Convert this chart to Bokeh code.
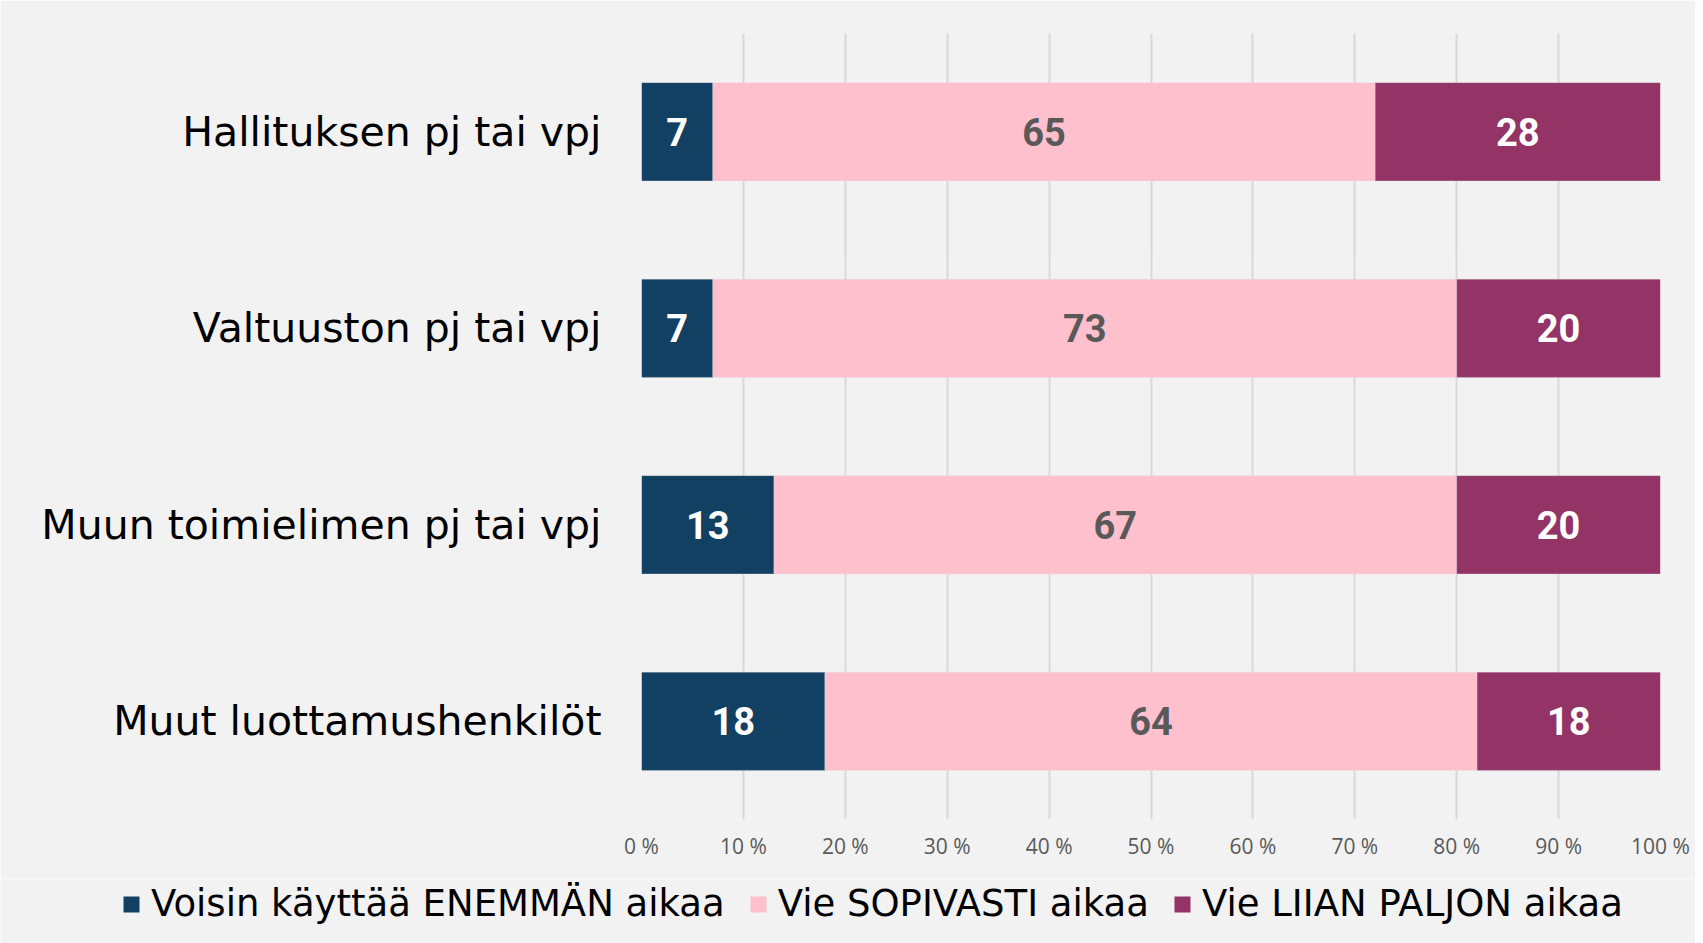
from bokeh.plotting import figure
from bokeh.layouts import column, row
from bokeh.models import (ColumnDataSource, FactorRange, Range1d, FixedTicker,
                          Legend, LegendItem)
from bokeh.core.properties import value
from bokeh.embed import file_html
from bokeh.resources import INLINE

# ---- data ----
categories = ["Hallituksen pj tai vpj", "Valtuuston pj tai vpj",
              "Muun toimielimen pj tai vpj", "Muut luottamushenkilöt"]
enemman = [7, 7, 13, 18]
sopivasti = [65, 73, 67, 64]
liian = [28, 20, 20, 18]
series_names = ["Voisin käyttää ENEMMÄN aikaa", "Vie SOPIVASTI aikaa",
                "Vie LIIAN PALJON aikaa"]
tick_values = [0, 10, 20, 30, 40, 50, 60, 70, 80, 90, 100]
tick_labels = ["0 %", "10 %", "20 %", "30 %", "40 %", "50 %", "60 %",
               "70 %", "80 %", "90 %", "100 %"]

colors = ["#124062", "#FFC0CE", "#933366"]
label_colors = ["#FFFFFF", "#595959", "#FFFFFF"]
BG = "#F2F2F2"

src = ColumnDataSource(dict(cat=categories, a=enemman, b=sopivasti, c=liian))

p = figure(width=1695, height=879, output_backend="svg", toolbar_location=None,
           y_range=FactorRange(factors=list(reversed(categories))),
           x_range=Range1d(0, 100),
           min_border_left=641, min_border_right=35, min_border_top=33,
           min_border_bottom=60)
p.background_fill_color = BG
p.border_fill_color = BG
p.outline_line_color = None

renderers = p.hbar_stack(["a", "b", "c"], y="cat", height=0.5, color=colors,
                         line_color="#DDDDDD", line_width=0.5, line_alpha=0.6,
                         source=src)

# segment labels
series = [enemman, sopivasti, liian]
for i, vals in enumerate(series):
    starts = [sum(s[j] for s in series[:i]) for j in range(len(categories))]
    mids = [st + v / 2 for st, v in zip(starts, vals)]
    p.text(x=mids, y=categories, text=[str(v) for v in vals],
           text_align="center", text_baseline="middle",
           text_font=value("Roboto"), text_font_style="bold",
           text_font_size="38px", text_color=label_colors[i])

# axes
p.yaxis.axis_line_color = None
p.yaxis.major_tick_line_color = None
p.yaxis.minor_tick_line_color = None
p.yaxis.major_label_text_font = "DejaVu Sans"
p.yaxis.major_label_text_font_size = "41px"
p.yaxis.major_label_text_color = "#000000"
p.yaxis.major_label_standoff = 34

p.xaxis.ticker = FixedTicker(ticks=tick_values)
p.xaxis.major_label_overrides = {v: l for v, l in zip(tick_values, tick_labels)}
p.xaxis.axis_line_color = None
p.xaxis.major_tick_line_color = None
p.xaxis.minor_tick_line_color = None
p.xaxis.major_label_text_font = "Open Sans"
p.xaxis.major_label_text_font_size = "21px"
p.xaxis.major_label_text_color = "#595959"
p.xaxis.major_label_standoff = 6

p.ygrid.grid_line_color = None
p.xgrid.grid_line_color = "#D9D9D9"
p.xgrid.grid_line_width = 2

# legend strip below the chart; its bars use a factor range that contains
# none of the categories, so only the legend entries are drawn
lg = figure(width=1695, height=64, output_backend="svg", toolbar_location=None,
            x_range=Range1d(0, 100),
            y_range=FactorRange(factors=["legend"]),
            x_axis_type=None, y_axis_type=None,
            min_border_left=0, min_border_right=0, min_border_top=0,
            min_border_bottom=0)
lg.background_fill_color = BG
lg.border_fill_color = BG
lg.outline_line_color = None
lg.grid.visible = False
leg_r = lg.hbar_stack(["a", "b", "c"], y="cat", height=0.5, color=colors,
                      line_color=None, source=src)

legend = Legend(items=[LegendItem(label=n, renderers=[r])
                       for n, r in zip(series_names, leg_r)],
                orientation="horizontal", location=(121, 18),
                background_fill_alpha=0, border_line_color=None,
                label_text_font="DejaVu Sans", label_text_font_size="37px",
                label_text_color="#000000", glyph_width=20, glyph_height=20,
                label_height=40, label_standoff=10, spacing=23, padding=0,
                margin=0)
lg.add_layout(legend, "center")

layout = column(p, row(lg, spacing=0), spacing=0)
open("out.html", "w").write(file_html(layout, INLINE))
